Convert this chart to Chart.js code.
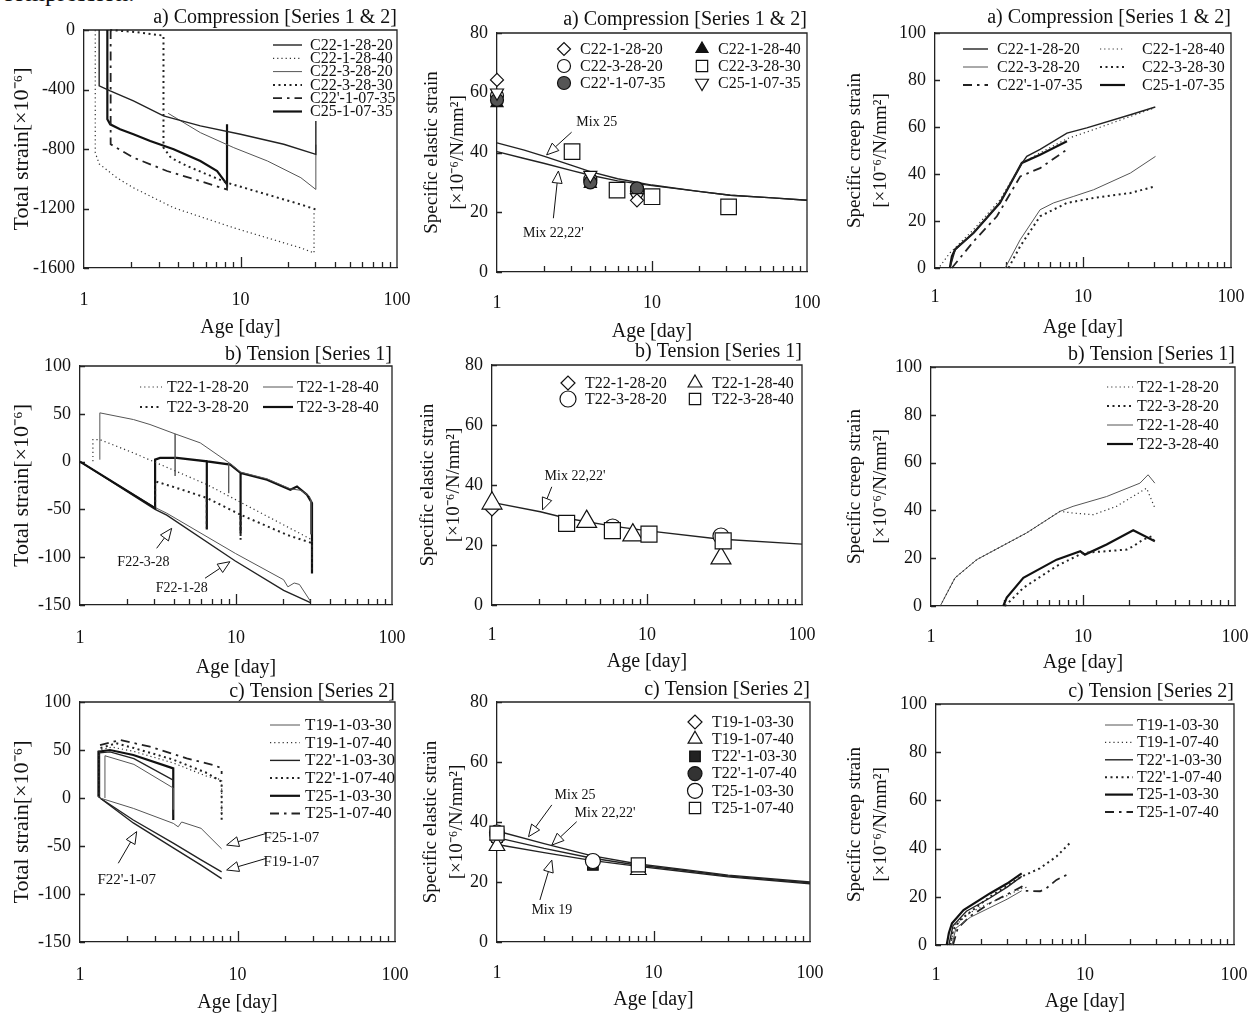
<!DOCTYPE html>
<html><head><meta charset="utf-8"><title>Creep test results</title>
<script src="https://cdn.jsdelivr.net/npm/chart.js@4.4.1/dist/chart.umd.min.js"></script>
<style>
html,body{margin:0;padding:0;background:#fff}
body{position:relative;width:1257px;height:1014px;overflow:hidden;font-family:"Liberation Serif","Times New Roman",serif;color:#111}
canvas{position:absolute}
#frag{position:absolute;left:2px;top:-21px;font-size:25px;white-space:nowrap}
</style></head><body>
<div id="frag">compression.</div>
<script>
// ---------- axis ticks ----------
const ageLabels = [1, 10, 100];
const ageTicks = [2,3,4,5,6,7,8,9,10,20,30,40,50,60,70,80,90];

// ---------- a) Compression : total strain [age, strain] ----------
const tsC22_1_28_20 = [[1.25,0],[1.25,-375],[1.47,-409],[2.07,-476],[3.22,-577],[5.54,-645],[10,-701],[18.9,-768],[30.3,-836],[30.3,-611]];
const tsC22_1_28_40 = [[1.18,0],[1.18,-825],[1.25,-900],[1.62,-993],[2.07,-1061],[3.74,-1195],[9.06,-1330],[24.3,-1465],[29.5,-1499],[29.5,-1218]];
const tsC22_3_28_20 = [[3.45,-560],[5.54,-690],[9.06,-791],[14.9,-881],[24.3,-993],[30.3,-1072],[30.3,-770]];
const tsC22_3_28_30 = [[1.47,0],[2.2,-15],[3.22,-38],[3.22,-791],[3.6,-860],[4.55,-914],[6.12,-971],[8.21,-1027],[14.8,-1106],[24.3,-1173],[30.3,-1207]];
const tsC22p_1_07_35 = [[1.48,0],[1.48,-768],[2.07,-858],[3.39,-948],[5.54,-1016],[8.2,-1072],[8.2,-1027]];
const tsC25_1_07_35 = [[1.41,0],[1.41,-600],[1.47,-634],[1.70,-667],[2.07,-701],[2.65,-746],[3.74,-802],[5.54,-881],[7.09,-948],[8.2,-1038],[8.2,-634]];

// ---------- a) Compression : specific elastic strain ----------
const seC22_1_28_20 = [[1,64.3],[8,24]];
const seC22_3_28_20 = [[1,59],[4,31],[8,27]];
const seC22p_1_07_35 = [[1,57.6],[4,30],[8,28]];
const seC22_1_28_40 = [[1,56.5],[4,29.5]];
const seC22_3_28_30 = [[3.05,40.3],[5.95,27.4],[10,25.2],[31.2,21.8]];
const seC25_1_07_35 = [[1,60],[4,32.4],[8,25]];
const mixC25 = [[1,43.2],[1.5,40.8],[2,38.8],[3,35.8],[4,33.6],[6,31.2],[10,29.1],[20,27],[32,25.7],[60,24.8],[100,24]];
const mixC22 = [[1,40.3],[1.5,38],[2,36.4],[3,34],[4,32.4],[6,30.5],[10,28.9],[20,27],[32,25.7],[60,24.8],[100,24]];

// ---------- a) Compression : specific creep strain ----------
const crC22_1_28_20 = [[1.26,0],[1.37,7.8],[1.82,15],[2.75,28],[3.86,44.5],[4.17,47.5],[5.13,50.5],[7.79,57.4],[10.6,59.6],[20.9,65.2],[30.8,68.5]];
const crC22_3_28_20 = [[2.98,0],[3.76,12],[5.13,24.8],[6.33,27.7],[8.67,30.5],[11.8,33.3],[20.9,40.4],[30.9,47.5]];
const crC22p_1_07_35 = [[1.3,0],[1.82,11.3],[2.62,22],[3.77,39],[5.13,42.5],[7.79,50.4]];
const crC22_1_28_40 = [[1.08,0.7],[1.26,6.4],[1.82,16.3],[2.75,29],[3.86,44.7],[5.13,49],[7.79,55],[11.8,58.9],[20.9,64.5],[30,68]];
const crC22_3_28_30 = [[3.14,0],[3.76,9.2],[5.13,22],[7.8,27.7],[11.8,29.8],[20.9,31.9],[30.9,34.8]];
const crC25_1_07_35 = [[1.26,0],[1.3,5],[1.37,8],[1.82,14.9],[2.75,27.7],[3.86,44.7],[5.13,48.2],[7.79,53.9]];

// ---------- b) Tension Series 1 : total strain ----------
const ttT22_1_28_20 = [[1.21,0.3],[1.21,23],[1.34,23],[2.2,9.1],[6.52,-24.1],[30.7,-81.8],[30.7,-103]];
const ttT22_3_28_20 = [[3.03,-48],[3.03,-20.6],[4.17,-27.6],[6.5,-38],[6.5,-69.6],[6.5,-38],[10.7,-55.6],[10.7,-81.8],[10.7,-55.6],[21.2,-76.6],[30.7,-85.3],[30.7,-115]];
const ttT22_1_28_40 = [[1.34,2],[1.34,51],[2.2,44],[2.81,38.8],[4.07,29],[4.07,-15],[4.07,29],[5.9,19.6],[8.98,-1],[8.98,-33],[8.98,-1],[10.7,-11],[15.8,-18],[22.3,-28.5],[26,-30],[29.5,-36],[30.2,-40],[30.2,-76]];
const ttT22_3_28_40 = [[1,0],[3.03,-48.6],[3.03,2.1],[3.26,3.8],[4.17,3.8],[6.5,0.3],[6.5,-71],[6.5,0.3],[9.2,-3.2],[10.7,-11.9],[10.7,-75],[10.7,-11.9],[15.8,-19],[22.3,-29.4],[24.6,-26],[28.5,-34.6],[30.7,-43.4],[30.7,-117]];
const ttF22_3_28 = [[1,0],[3.03,-48],[3.6,-54],[9.9,-96],[20.2,-123.6],[21.5,-131],[23.6,-127],[25.5,-128.5],[30,-146]];
const ttF22_1_28 = [[1,0],[3.03,-50],[3.6,-56],[9.9,-104],[20.2,-134.8],[30,-147.5]];

// ---------- b) Tension Series 1 : specific elastic strain ----------
const se1T22_1_28_20 = [[1,32]];
const se1T22_3_28_20 = [[6,26],[30,23]];
const se1T22_1_28_40 = [[1,33.9],[4.08,27.8],[8.1,23.3],[30,15.6]];
const se1T22_3_28_40 = [[3.03,27.2],[5.98,24.8],[10.3,23.6],[31,21.4]];
const mixT1_22 = [[1,34.2],[2.05,31.1],[3.03,28.9],[6,26.3],[9.9,24.8],[29,22],[100,20.3]];

// ---------- b) Tension Series 1 : specific creep strain ----------
const crT22_1_28_20 = [[1.15,0],[1.44,11.8],[2.0,19.4],[4.26,30.6],[7.06,39.6],[8.6,38.9],[11.7,38.2],[16.6,41.7],[26.2,49.3],[29.7,41]];
const crT22_3_28_20 = [[3.07,0],[4.05,7.6],[6.7,16.7],[10,22.2],[19.4,23.6],[21.4,25],[24.9,27.8],[28.3,29.2],[29.7,26.4]];
const crT22_1_28_40 = [[1.15,0],[1.44,11.8],[2.0,19.4],[4.26,30.6],[7.06,39.6],[8.6,41.7],[14.3,45.8],[23.7,51.4],[26.8,54.9],[29.7,51.4]];
const crT22_3_28_40 = [[2.99,0],[3.15,3.5],[4.05,11.8],[6.7,19.4],[9.6,22.9],[10.3,21.5],[14.3,25.7],[21.4,31.7],[29.7,27.1]];

// ---------- c) Tension Series 2 : total strain ----------
const tt2T19_1_03_30 = [[1.44,0],[1.44,44],[2.2,35],[3.91,10.4],[3.91,-12]];
const tt2T19_1_07_40 = [[1.32,0],[1.32,50],[1.6,53],[2.2,48.5],[3.91,36.5],[6.4,22.6],[7.93,19],[7.93,-20]];
const tt2T22p_1_03_30 = [[1.33,0],[1.33,47],[1.55,48],[2.2,41],[3.91,18.7],[3.91,-18]];
const tt2T22p_1_07_40 = [[1.35,52],[1.7,57],[2.2,52],[3.91,40],[6.4,26],[7.93,17],[7.93,-26]];
const tt2T25_1_03_30 = [[1.31,1.4],[1.31,48.2],[1.55,50],[2.18,44.8],[3.91,30.9],[3.91,-22.9]];
const tt2T25_1_07_40 = [[1.34,55],[1.79,60.4],[2.78,53.5],[4.76,41.3],[7.02,34.4],[7.93,31],[7.93,25]];
const tt2F25_1_07 = [[1.34,0],[2.18,-10.8],[3.91,-26.4],[4.2,-30],[4.42,-25],[5.87,-31.6],[7.93,-53]];
const tt2F19_1_07 = [[1.34,0],[2.18,-22.9],[3.91,-47],[5.87,-64.4],[7.93,-77]];
const tt2F22p_1_07 = [[1.34,0],[2.18,-26],[3.91,-52],[5.87,-70],[7.93,-84]];

// ---------- c) Tension Series 2 : specific elastic strain ----------
const se2T19_1_03_30 = [[1,34]];
const se2T19_1_07_40 = [[1,32],[8,24]];
const se2T22p_1_03_30 = [[1,35],[4.1,25.7]];
const se2T22p_1_07_40 = [[1,35.5],[8,25.5]];
const se2T25_1_03_30 = [[1,36.5],[4.1,27]];
const se2T25_1_07_40 = [[1,36.3],[8,25.7]];
const mixT25 = [[1,37],[2,32.8],[4,28.8],[8,26],[15,24.3],[30,22.3],[100,20]];
const mixT22 = [[1,34.8],[2,31.2],[4,28],[8,25.6],[15,24],[30,22],[100,19.7]];
const mixT19 = [[1,32.5],[2,29.8],[4,27.2],[8,25.2],[15,23.6],[30,21.7],[100,19.4]];

// ---------- c) Tension Series 2 : specific creep strain ----------
const cr2T19_1_03_30 = [[1.28,0],[1.36,7],[1.7,11.5],[2.3,15.5],[3.0,19],[3.76,22.5]];
const cr2T19_1_07_40 = [[1.25,0],[1.33,8],[1.7,13.5],[2.3,17.5],[3.0,20.5],[3.76,23.5],[4.1,24]];
const cr2T22p_1_03_30 = [[1.22,0],[1.3,8],[1.6,14],[2.3,19.5],[3.0,24],[3.76,28.5]];
const cr2T22p_1_07_40 = [[1.25,0],[1.3,6],[1.45,10.4],[2.3,20],[3.76,28.4],[4.97,31.8],[6.43,36.7],[7.88,42.2]];
const cr2T25_1_03_30 = [[1.18,0],[1.22,5],[1.28,9],[1.53,14.5],[2.3,21.4],[3.0,25.5],[3.76,29.7]];
const cr2T25_1_07_40 = [[1.3,0],[1.4,7],[1.7,12],[2.3,17.3],[3.76,24.2],[4.0,22.5],[5.0,22.3],[5.5,23.5],[6.43,27],[7.88,29.7]];

// ================= styles & helpers =================
const FONT = '"Liberation Serif", "Times New Roman", serif';
Chart.defaults.font.family = FONT;
Chart.defaults.color = '#111';

const ST = {
  thick:   {borderColor:'#111', borderWidth:2.2, borderDash:[]},
  mid:     {borderColor:'#222', borderWidth:1.4, borderDash:[]},
  thin:    {borderColor:'#555', borderWidth:1, borderDash:[]},
  fineDot: {borderColor:'#333', borderWidth:1.2, borderDash:[1.2,3]},
  dot:     {borderColor:'#222', borderWidth:2, borderDash:[2,3.5]},
  dashDot: {borderColor:'#222', borderWidth:1.8, borderDash:[9,5,2.5,5]}
};
function L(label, data, st, leg) {
  return Object.assign({label, data, showLine:true, pointRadius:0, pointHoverRadius:0, pointHitRadius:0,
    tension:0, clip:false, order:1, leg}, st);
}
function mk(pointStyle, pointRadius, backgroundColor, pointRotation) {
  return {pointStyle, pointRadius, backgroundColor, pointRotation: pointRotation || 0};
}
function M(label, data, m, leg) {
  return Object.assign({label, data, showLine:false, borderColor:'#111', pointBorderWidth:1.2,
    pointHoverRadius:0, clip:false, order:0, leg}, m);
}

function drawMarker(ctx, ds, x, y, r) {
  ctx.save();
  ctx.fillStyle = ds.backgroundColor; ctx.strokeStyle = ds.borderColor; ctx.lineWidth = ds.pointBorderWidth;
  if (Chart.helpers && Chart.helpers.drawPoint) {
    Chart.helpers.drawPoint(ctx, {pointStyle: ds.pointStyle, rotation: ds.pointRotation || 0, radius: r, borderWidth: ds.pointBorderWidth}, x, y);
  } else {
    ctx.beginPath(); ctx.arc(x, y, r, 0, Math.PI * 2); ctx.fill(); ctx.stroke();
  }
  ctx.restore();
}

const framePlugin = {
  id: 'frame',
  beforeDatasetsDraw(chart) {
    const {ctx, chartArea: a, scales: {x, y}} = chart;
    ctx.save();
    ctx.strokeStyle = '#222'; ctx.lineWidth = 1.3;
    ctx.beginPath();
    ctx.moveTo(a.left, a.top); ctx.lineTo(a.right, a.top); ctx.lineTo(a.right, a.bottom);
    ageTicks.forEach(v => {
      const px = Math.round(x.getPixelForValue(v)) + 0.5;
      const len = ageLabels.includes(v) ? 11 : 6;
      ctx.moveTo(px, a.bottom); ctx.lineTo(px, a.bottom - len);
    });
    y.ticks.forEach(t => {
      const py = Math.round(y.getPixelForValue(t.value)) + 0.5;
      ctx.moveTo(a.left, py); ctx.lineTo(a.left + 5, py);
    });
    ctx.stroke();
    ctx.restore();
  }
};

function legendPlugin(o) {
  return {id: 'inLegend', afterDraw(chart) {
    if (!o) return;
    const {ctx, chartArea: a} = chart;
    ctx.save();
    ctx.font = (o.size || 16) + 'px ' + FONT;
    ctx.textBaseline = 'middle'; ctx.textAlign = 'left';
    chart.data.datasets.forEach(ds => {
      if (!ds.leg) return;
      const col = o.cols[ds.leg[0]];
      const yy = a.top + o.y0 + ds.leg[1] * o.dy;
      const sx = a.left + col.s;
      if (ds.showLine) {
        ctx.save();
        ctx.strokeStyle = ds.borderColor; ctx.lineWidth = ds.borderWidth; ctx.setLineDash(ds.borderDash || []);
        ctx.beginPath(); ctx.moveTo(sx, yy); ctx.lineTo(sx + col.len, yy); ctx.stroke();
        ctx.restore();
      } else {
        drawMarker(ctx, ds, sx, yy, Math.min(ds.pointRadius, o.cap || 99));
      }
      ctx.fillStyle = '#111';
      ctx.fillText(ds.label, a.left + col.t, yy + 0.5);
    });
    ctx.restore();
  }};
}

function notesPlugin(o) {
  return {id: 'notes', afterDraw(chart) {
    if (!o) return;
    const {ctx, scales: {x, y}} = chart;
    ctx.save();
    ctx.font = (o.size || 14) + 'px ' + FONT;
    ctx.textAlign = 'center'; ctx.textBaseline = 'middle';
    ctx.strokeStyle = '#111'; ctx.lineWidth = 1;
    o.items.forEach(n => {
      ctx.fillStyle = '#111';
      ctx.fillText(n.text, x.getPixelForValue(n.at[0]), y.getPixelForValue(n.at[1]));
      const fx = x.getPixelForValue(n.from[0]), fy = y.getPixelForValue(n.from[1]);
      const px = x.getPixelForValue(n.to[0]), py = y.getPixelForValue(n.to[1]);
      const ang = Math.atan2(py - fy, px - fx), Lh = 12, W = 5;
      const bx = px - Lh * Math.cos(ang), by = py - Lh * Math.sin(ang);
      ctx.beginPath(); ctx.moveTo(fx, fy); ctx.lineTo(bx, by); ctx.stroke();
      ctx.beginPath(); ctx.moveTo(px, py);
      ctx.lineTo(bx + W * Math.sin(ang), by - W * Math.cos(ang));
      ctx.lineTo(bx - W * Math.sin(ang), by + W * Math.cos(ang));
      ctx.closePath(); ctx.fillStyle = '#fff'; ctx.fill(); ctx.stroke();
    });
    ctx.restore();
  }};
}

function panel(p) {
  const cw = 419, ch = 345;
  const cv = document.createElement('canvas');
  cv.width = cw; cv.height = ch;
  cv.style.left = p.cx + 'px'; cv.style.top = p.cy + 'px';
  cv.style.width = cw + 'px'; cv.style.height = ch + 'px';
  document.body.appendChild(cv);
  const [Lp, T, R, B] = p.plot;
  const yW = Lp - p.cx, xH = p.cy + ch - B;
  const tBot = Math.max(0, T - p.titleY - 10);
  const tTop = Math.max(0, T - p.cy - 20 - tBot);
  const ysz = p.ysz || 19;
  new Chart(cv, {
    type: 'scatter',
    data: {datasets: p.datasets},
    options: {
      responsive: false, animation: false, devicePixelRatio: 1, events: [],
      layout: {padding: {left: 0, top: 0, bottom: 0, right: p.cx + cw - R}},
      plugins: {
        legend: {display: false}, tooltip: {enabled: false},
        title: {display: true, text: p.title, align: 'end', fullSize: false, color: '#111',
          font: {family: FONT, size: 20, lineHeight: 1, weight: 'normal'}, padding: {top: tTop, bottom: tBot}}
      },
      scales: {
        x: {type: 'logarithmic', position: 'bottom', min: 1, max: 100,
          afterBuildTicks: s => { s.ticks = ageLabels.map(v => ({value: v})); },
          afterFit: s => { s.height = xH; s.paddingLeft = 0; s.paddingRight = 0; },
          grid: {display: false, drawTicks: false},
          border: {display: true, color: '#222', width: 1.3},
          ticks: {autoSkip: false, maxRotation: 0, minRotation: 0, padding: p.xTickOff - 10.8, color: '#111',
            font: {family: FONT, size: 18}, callback: v => String(v)},
          title: {display: true, text: 'Age [day]', color: '#111', font: {family: FONT, size: 20},
            padding: {top: 0, bottom: xH - p.xTitleOff - 12}}
        },
        y: {type: 'linear', position: 'left', min: p.y[0], max: p.y[1],
          afterFit: s => { s.width = yW; s.paddingTop = 0; s.paddingBottom = 0; },
          grid: {display: false, drawTicks: false},
          border: {display: true, color: '#222', width: 1.3},
          ticks: {stepSize: p.y[2], padding: 9, color: '#111', font: {family: FONT, size: 18}, callback: v => String(v)},
          title: {display: true, text: p.ytitle, color: '#111', font: {family: FONT, size: ysz, lineHeight: 26 / ysz},
            padding: {top: p.ytx - p.cx - 13, bottom: 0}}
        }
      }
    },
    plugins: [framePlugin, legendPlugin(p.legend), notesPlugin(p.notes)]
  });
}

const TS_TITLE = 'Total strain[×10⁻⁶]';
const SE_TITLE = ['Specific elastic strain', '[×10⁻⁶/N/mm²]'];
const SC_TITLE = ['Specific creep strain', '[×10⁻⁶/N/mm²]'];

// ---------------- row a ----------------
panel({cx: 0, cy: 0, plot: [84, 30, 397, 268], titleY: 18, title: 'a) Compression [Series 1 & 2]',
  y: [-1600, 0, 400], ytitle: TS_TITLE, ysz: 22, ytx: 22, xTickOff: 32, xTitleOff: 60,
  legend: {cols: [{s: 189, t: 226, len: 29}], y0: 15, dy: 13.3, size: 16},
  datasets: [
    L('C22-1-28-20', tsC22_1_28_20, ST.mid, [0,0]),
    L('C22-1-28-40', tsC22_1_28_40, ST.fineDot, [0,1]),
    L('C22-3-28-20', tsC22_3_28_20, ST.thin, [0,2]),
    L('C22-3-28-30', tsC22_3_28_30, ST.dot, [0,3]),
    L("C22'-1-07-35", tsC22p_1_07_35, ST.dashDot, [0,4]),
    L('C25-1-07-35', tsC25_1_07_35, ST.thick, [0,5])
  ]});

panel({cx: 419, cy: 0, plot: [497, 33, 807, 272], titleY: 20, title: 'a) Compression [Series 1 & 2]',
  y: [0, 80, 20], ytitle: SE_TITLE, ytx: 432, xTickOff: 31, xTitleOff: 60,
  legend: {cols: [{s: 67, t: 83}, {s: 205, t: 221}], y0: 16, dy: 17, size: 16, cap: 8},
  notes: {size: 14, items: [
    {text: 'Mix 25', at: [4.4, 50], from: [3.03, 46.8], to: [2.09, 39.2]},
    {text: "Mix 22,22'", at: [2.31, 12.9], from: [2.31, 18], to: [2.49, 33.8]}
  ]},
  datasets: [
    M('C22-1-28-20', seC22_1_28_20, mk('rectRot', 6.5, '#fff'), [0,0]),
    M('C25-1-07-35', seC25_1_07_35, mk('triangle', 7.5, '#fff', 180), [1,2]),
    M("C22'-1-07-35", seC22p_1_07_35, mk('circle', 6.5, '#555'), [0,2]),
    M('C22-3-28-20', seC22_3_28_20, mk('circle', 6.5, '#fff'), [0,1]),
    M('C22-1-28-40', seC22_1_28_40, mk('triangle', 7, '#111'), [1,0]),
    M('C22-3-28-30', seC22_3_28_30, mk('rect', 11, '#fff'), [1,1]),
    L('Mix 25', mixC25, ST.mid, null),
    L("Mix 22,22'", mixC22, ST.mid, null)
  ]});

panel({cx: 838, cy: 0, plot: [935, 33, 1231, 268], titleY: 18, title: 'a) Compression [Series 1 & 2]',
  y: [0, 100, 20], ytitle: SC_TITLE, ytx: 855, xTickOff: 29, xTitleOff: 60,
  legend: {cols: [{s: 28, t: 62, len: 25}, {s: 165, t: 207, len: 25}], y0: 16, dy: 18, size: 16},
  datasets: [
    L('C22-1-28-20', crC22_1_28_20, ST.mid, [0,0]),
    L('C22-3-28-20', crC22_3_28_20, ST.thin, [0,1]),
    L("C22'-1-07-35", crC22p_1_07_35, ST.dashDot, [0,2]),
    L('C22-1-28-40', crC22_1_28_40, ST.fineDot, [1,0]),
    L('C22-3-28-30', crC22_3_28_30, ST.dot, [1,1]),
    L('C25-1-07-35', crC25_1_07_35, ST.thick, [1,2])
  ]});

// ---------------- row b ----------------
panel({cx: 0, cy: 338, plot: [80, 366, 392, 605], titleY: 355, title: 'b) Tension [Series 1]',
  y: [-150, 100, 50], ytitle: TS_TITLE, ysz: 22, ytx: 22, xTickOff: 33, xTitleOff: 63,
  legend: {cols: [{s: 60, t: 87, len: 22}, {s: 183, t: 217, len: 30}], y0: 21, dy: 20, size: 16},
  notes: {size: 14, items: [
    {text: 'F22-3-28', at: [2.55, -105], from: [3.1, -90.7], to: [3.87, -69.8]},
    {text: 'F22-1-28', at: [4.49, -132.6], from: [6.33, -122], to: [9.14, -104.7]}
  ]},
  datasets: [
    L('T22-1-28-20', ttT22_1_28_20, ST.fineDot, [0,0]),
    L('T22-3-28-20', ttT22_3_28_20, ST.dot, [0,1]),
    L('T22-1-28-40', ttT22_1_28_40, ST.thin, [1,0]),
    L('T22-3-28-40', ttT22_3_28_40, ST.thick, [1,1]),
    L('F22-3-28', ttF22_3_28, ST.thin, null),
    L('F22-1-28', ttF22_1_28, ST.mid, null)
  ]});

panel({cx: 419, cy: 338, plot: [492, 365, 802, 605], titleY: 352, title: 'b) Tension [Series 1]',
  y: [0, 80, 20], ytitle: SE_TITLE, ytx: 428, xTickOff: 30, xTitleOff: 57,
  legend: {cols: [{s: 76, t: 93}, {s: 203, t: 220}], y0: 18, dy: 16, size: 16, cap: 8},
  notes: {size: 14, items: [
    {text: "Mix 22,22'", at: [3.43, 42.8], from: [2.43, 39.4], to: [2.12, 31.7]}
  ]},
  datasets: [
    M('T22-3-28-40', se1T22_3_28_40, mk('rect', 11.3, '#fff'), [1,1]),
    M('T22-1-28-40', se1T22_1_28_40, mk('triangle', 11.5, '#fff'), [1,0]),
    M('T22-1-28-20', se1T22_1_28_20, mk('rectRot', 7, '#fff'), [0,0]),
    M('T22-3-28-20', se1T22_3_28_20, mk('circle', 8, '#fff'), [0,1]),
    L("Mix 22,22'", mixT1_22, ST.mid, null)
  ]});

panel({cx: 838, cy: 338, plot: [931, 367, 1235, 606], titleY: 355, title: 'b) Tension [Series 1]',
  y: [0, 100, 20], ytitle: SC_TITLE, ytx: 855, xTickOff: 31, xTitleOff: 57,
  legend: {cols: [{s: 176, t: 206, len: 26}], y0: 20, dy: 19, size: 16},
  datasets: [
    L('T22-1-28-20', crT22_1_28_20, ST.fineDot, [0,0]),
    L('T22-3-28-20', crT22_3_28_20, ST.dot, [0,1]),
    L('T22-1-28-40', crT22_1_28_40, ST.thin, [0,2]),
    L('T22-3-28-40', crT22_3_28_40, ST.thick, [0,3])
  ]});

// ---------------- row c ----------------
panel({cx: 0, cy: 676, plot: [80, 702, 395, 942], titleY: 693, title: 'c) Tension [Series 2]',
  y: [-150, 100, 50], ytitle: TS_TITLE, ysz: 22, ytx: 22, xTickOff: 33, xTitleOff: 61,
  legend: {cols: [{s: 190, t: 225, len: 30}], y0: 23, dy: 17.7, size: 17},
  notes: {size: 15, items: [
    {text: 'F25-1-07', at: [22, -42], from: [15.3, -36.8], to: [8.53, -49]},
    {text: 'F19-1-07', at: [22, -66.4], from: [15.3, -62.8], to: [8.53, -75]},
    {text: "F22'-1-07", at: [1.98, -85.4], from: [1.75, -68], to: [2.29, -35]}
  ]},
  datasets: [
    L('T19-1-03-30', tt2T19_1_03_30, ST.thin, [0,0]),
    L('T19-1-07-40', tt2T19_1_07_40, ST.fineDot, [0,1]),
    L("T22'-1-03-30", tt2T22p_1_03_30, ST.mid, [0,2]),
    L("T22'-1-07-40", tt2T22p_1_07_40, ST.dot, [0,3]),
    L('T25-1-03-30', tt2T25_1_03_30, ST.thick, [0,4]),
    L('T25-1-07-40', tt2T25_1_07_40, ST.dashDot, [0,5]),
    L('F25-1-07', tt2F25_1_07, ST.thin, null),
    L('F19-1-07', tt2F19_1_07, ST.mid, null),
    L("F22'-1-07", tt2F22p_1_07, ST.mid, null)
  ]});

panel({cx: 419, cy: 676, plot: [497, 702, 810, 942], titleY: 690, title: 'c) Tension [Series 2]',
  y: [0, 80, 20], ytitle: SE_TITLE, ytx: 431, xTickOff: 31, xTitleOff: 58,
  legend: {cols: [{s: 198, t: 215}], y0: 20, dy: 17.2, size: 16, cap: 8},
  notes: {size: 14, items: [
    {text: 'Mix 25', at: [3.15, 49], from: [2.24, 45.7], to: [1.59, 35.1]},
    {text: "Mix 22,22'", at: [4.9, 42.9], from: [3.23, 40.1], to: [2.24, 32.3]},
    {text: 'Mix 19', at: [2.24, 10.7], from: [1.88, 14], to: [2.24, 27.3]}
  ]},
  datasets: [
    M('T25-1-07-40', se2T25_1_07_40, mk('rect', 10, '#fff'), [0,5]),
    M('T25-1-03-30', se2T25_1_03_30, mk('circle', 7.5, '#fff'), [0,4]),
    M('T19-1-07-40', se2T19_1_07_40, mk('triangle', 9, '#fff'), [0,1]),
    M('T19-1-03-30', se2T19_1_03_30, mk('rectRot', 7, '#fff'), [0,0]),
    M("T22'-1-03-30", se2T22p_1_03_30, mk('rect', 7.5, '#222'), [0,2]),
    M("T22'-1-07-40", se2T22p_1_07_40, mk('circle', 7, '#333'), [0,3]),
    L('Mix 25', mixT25, ST.mid, null),
    L("Mix 22,22'", mixT22, ST.mid, null),
    L('Mix 19', mixT19, ST.mid, null)
  ]});

panel({cx: 838, cy: 676, plot: [936, 704, 1234, 945], titleY: 692, title: 'c) Tension [Series 2]',
  y: [0, 100, 20], ytitle: SC_TITLE, ytx: 855, xTickOff: 30, xTitleOff: 57,
  legend: {cols: [{s: 169, t: 201, len: 28}], y0: 21, dy: 17.4, size: 16},
  datasets: [
    L('T19-1-03-30', cr2T19_1_03_30, ST.thin, [0,0]),
    L('T19-1-07-40', cr2T19_1_07_40, ST.fineDot, [0,1]),
    L("T22'-1-03-30", cr2T22p_1_03_30, ST.mid, [0,2]),
    L("T22'-1-07-40", cr2T22p_1_07_40, ST.dot, [0,3]),
    L('T25-1-03-30', cr2T25_1_03_30, ST.thick, [0,4]),
    L('T25-1-07-40', cr2T25_1_07_40, ST.dashDot, [0,5])
  ]});
</script>
</body></html>
